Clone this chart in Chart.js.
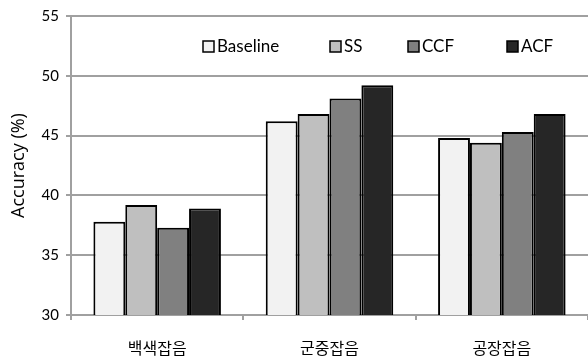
<!DOCTYPE html>
<html>
<head>
<meta charset="utf-8">
<script src="https://cdn.jsdelivr.net/npm/chart.js@4"></script>
<style>
  html, body { margin: 0; padding: 0; background: #fff; }
  #wrap { width: 588px; height: 361px; }
</style>
</head>
<body>
<div id="wrap"><canvas id="chart" width="588" height="361"></canvas></div>
<script>
// ─── Data ────────────────────────────────────────────────────────
const categories = ["백색잡음", "군중잡음", "공장잡음"];
const seriesNames = ["Baseline", "SS", "CCF", "ACF"];
const baseline = [37.8, 46.2, 44.8];
const ss       = [39.2, 46.8, 44.4];
const ccf      = [37.3, 48.1, 45.3];
const acf      = [38.9, 49.2, 46.8];
const fills = ["#f2f2f2", "#bfbfbf", "#808080", "#262626"];

const LATIN = "Lato, 'Open Sans', sans-serif";

// legend drawn inside the plot area, top row
const insideLegend = {
  id: "insideLegend",
  afterDraw(chart) {
    const ctx = chart.ctx;
    const xs = [203, 330, 408, 507];
    const y = 47;
    ctx.save();
    ctx.font = "17px " + LATIN;
    ctx.textBaseline = "middle";
    chart.data.datasets.forEach((ds, i) => {
      ctx.fillStyle = ds.backgroundColor;
      ctx.strokeStyle = "#000";
      ctx.lineWidth = 1.5;
      ctx.fillRect(xs[i], y - 6, 11, 11);
      ctx.strokeRect(xs[i], y - 6, 11, 11);
      ctx.fillStyle = "#000";
      ctx.fillText(ds.label, xs[i] + 14, y);
    });
    ctx.restore();
  },
};

const datasets = [baseline, ss, ccf, acf].map((vals, i) => ({
  label: seriesNames[i],
  data: vals,
  backgroundColor: fills[i],
  borderColor: "#000",
  borderWidth: 2,
  borderSkipped: "bottom",
  categoryPercentage: 0.74,
  barPercentage: 1.0,
}));

new Chart(document.getElementById("chart"), {
  type: "bar",
  data: { labels: categories, datasets },
  options: {
    responsive: false,
    animation: false,
    devicePixelRatio: 1,
    layout: { padding: { top: 10, right: 0, bottom: 0, left: 4 } },
    plugins: { legend: { display: false }, tooltip: { enabled: false } },
    scales: {
      x: {
        afterFit(scale) { scale.height = 46; },
        grid: { display: true, drawOnChartArea: false, offset: true, tickLength: 5, color: "#a0a0a0", lineWidth: 2 },
        border: { color: "#a0a0a0", width: 2 },
        ticks: { color: "#000", font: { family: "'Noto Sans CJK KR'", size: 16 }, padding: 18 },
      },
      y: {
        min: 30, max: 55,
        ticks: { stepSize: 5, color: "#000", font: { family: LATIN, size: 15 }, padding: 7 },
        grid: { color: "#a0a0a0", lineWidth: 2, tickLength: 5 },
        border: { color: "#a0a0a0", width: 2 },
        title: { display: true, text: "Accuracy (%)", color: "#000", font: { family: "'Open Sans', sans-serif", size: 18 }, padding: { bottom: 5 } },
      },
    },
  },
  plugins: [insideLegend],
});
</script>
</body>
</html>
